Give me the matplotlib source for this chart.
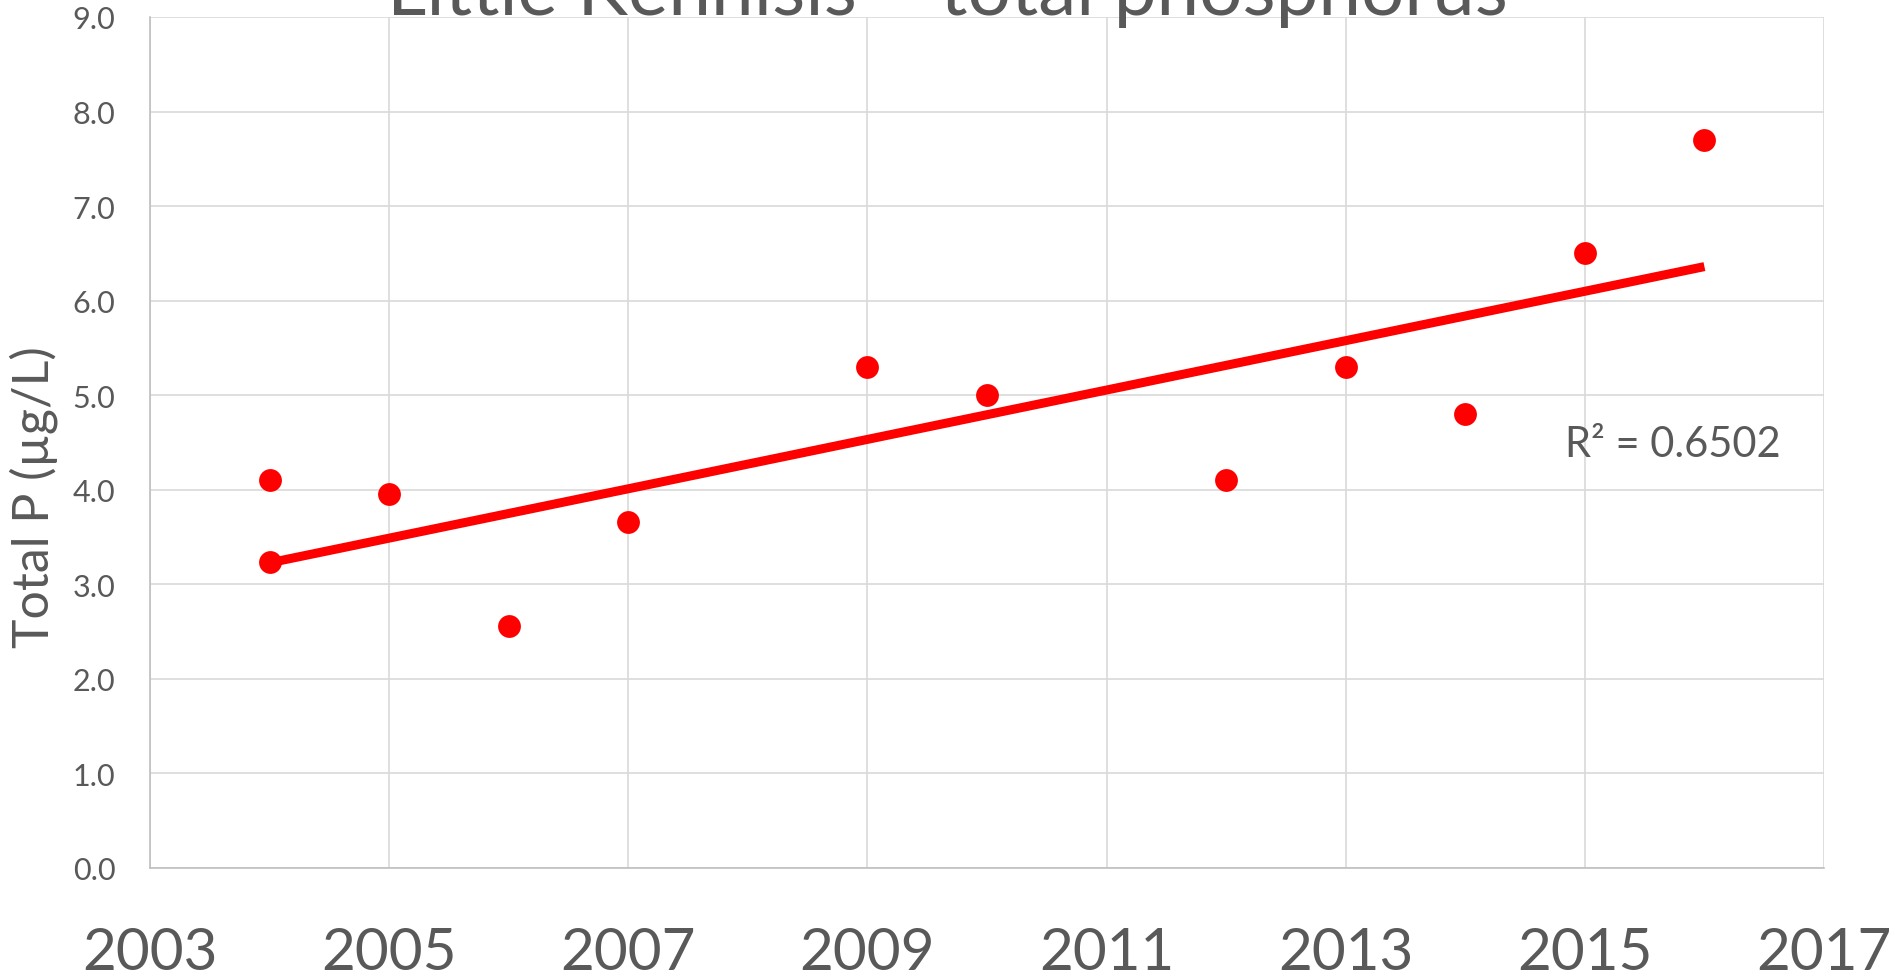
import numpy as np
import matplotlib.pyplot as plt

plt.rcParams['font.family'] = ['Lato', 'DejaVu Sans']

# Datos
years = [2004, 2004, 2005, 2006, 2007, 2009, 2010, 2012, 2013, 2014, 2015, 2016]
total_p = [4.1, 3.24, 3.96, 2.56, 3.66, 5.3, 5.0, 4.1, 5.3, 4.8, 6.5, 7.7]
x_ticks = [2003, 2005, 2007, 2009, 2011, 2013, 2015, 2017]
y_ticks = [0, 1, 2, 3, 4, 5, 6, 7, 8, 9]
r2_label = 'R² = 0.6502'

text_color = '#595959'
grid_color = '#D9D9D9'

fig = plt.figure(figsize=(18.95, 9.79), dpi=100)
ax = fig.add_axes([150 / 1895, 1 - 869 / 979, 1674 / 1895, 851 / 979])

# Puntos
ax.scatter(years, total_p, s=270, color='#FF0000', zorder=3, linewidths=0)

# Linea de tendencia lineal
x = np.array(years, dtype=float)
y = np.array(total_p)
slope, intercept = np.polyfit(x, y, 1)
xt = np.array([x.min(), x.max()])
ax.plot(xt, slope * xt + intercept, color='#FF0000', lw=6.5, zorder=4,
        solid_capstyle='butt')
ax.text(2014.83, 4.48, r2_label, fontsize=30, color=text_color,
        va='center', ha='left')

# Ejes
ax.set_xlim(2003, 2017)
ax.set_ylim(0, 9)
ax.set_xticks(x_ticks)
ax.set_yticks(y_ticks)
ax.set_yticklabels(['%.1f' % v for v in y_ticks])
ax.tick_params(axis='x', length=0, pad=42, labelsize=42, labelcolor=text_color)
ax.tick_params(axis='y', length=0, pad=25, labelsize=22, labelcolor=text_color)
ax.grid(True, color=grid_color, lw=1.2)
ax.set_axisbelow(True)
for side in ['top', 'right']:
    ax.spines[side].set_visible(False)
for side in ['left', 'bottom']:
    ax.spines[side].set_color('#BFBFBF')
    ax.spines[side].set_linewidth(1.2)

ax.set_ylabel('Total P (µg/L)', fontsize=36, color=text_color)
ax.yaxis.set_label_coords(-92 / 1674, 0.437)

# Titulo (cortado arriba como en la imagen)
fig.text(0.5, 1 - 15 / 979, 'Little Kennisis – total phosphorus', fontsize=55,
         color=text_color, ha='center', va='baseline')

fig.savefig('out.png', dpi=100)
